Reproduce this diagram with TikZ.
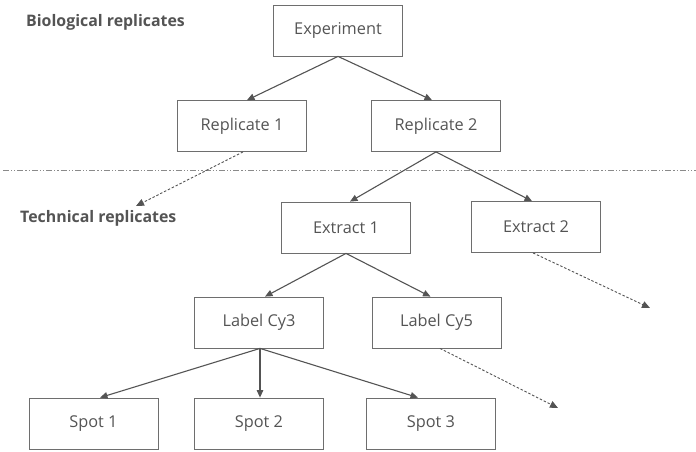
\documentclass[tikz,border=0pt]{standalone}
\usepackage{fontspec}
\setmainfont{Open Sans}
\usetikzlibrary{arrows.meta}
\definecolor{ink}{HTML}{545454}
\definecolor{rule}{HTML}{8A8A8A}
\begin{document}
\begin{tikzpicture}[x=1pt,y=-1pt,
  box/.style={draw=ink!85, line width=0.8pt, minimum width=129pt, minimum height=51pt,
              inner sep=0pt, text=ink, font=\fontsize{16.3}{18}\selectfont},
  side/.style={anchor=base west, inner sep=0pt, text=ink, font=\fontsize{15.9}{18}\selectfont\bfseries},
  link/.style={draw=ink, line width=1.1pt, -{Triangle[length=7.5pt,width=6.5pt]}},
  faint/.style={draw=ink, line width=0.9pt, dash pattern=on 2.5pt off 1.8pt, -{Triangle[length=8pt,width=7pt]}}]
\useasboundingbox (0,0) rectangle (696,451);

% level labels
\node[side] (bio) at (26,26) {Biological replicates};
\node[side] (tech) at (20,222) {Technical replicates};

% divider between biological and technical levels
\coordinate (divL) at (3,170);
\coordinate (divR) at (696,170);
\draw[rule, line width=0.9pt, dash pattern=on 6pt off 2pt on 1.2pt off 2pt on 1.2pt off 2pt] (divL) -- (divR);

% boxes
\node[box] (exp) at (338,30.5) {Experiment};
\node[box] (r1) at (242,126) {Replicate 1};
\node[box] (r2) at (436,126) {Replicate 2};
\node[box] (e1) at (346,227.5) {Extract 1};
\node[box] (e2) at (536,227) {Extract 2};
\node[box] (cy3) at (259,322.5) {Label Cy3};
\node[box] (cy5) at (436.5,322.5) {Label Cy5};
\node[box] (s1) at (93.5,423.5) {Spot 1};
\node[box] (s2) at (259,423.5) {Spot 2};
\node[box] (s3) at (431,423.5) {Spot 3};

% solid connectors
\draw[link] (exp.south) -- ([xshift=5pt]r1.north);
\draw[link] (exp.south) -- ([xshift=-4pt]r2.north);
\draw[link] (r2.south) -- ([xshift=4pt]e1.north);
\draw[link] (r2.south) -- ([xshift=-4pt]e2.north);
\draw[link] (e1.south) -- ([xshift=6pt]cy3.north);
\draw[link] (e1.south) -- ([xshift=-6pt]cy5.north);
\draw[link] ([xshift=1pt]cy3.south) -- ([xshift=6.5pt]s1.north);
\draw[link] ([xshift=1pt]cy3.south) -- ([xshift=1pt]s2.north);
\draw[link] ([xshift=1pt]cy3.south) -- ([xshift=-13pt]s3.north);

% dashed connectors to branches not shown
\coordinate (r1more) at (136,206);
\coordinate (e2more) at (650,308);
\coordinate (cy5more) at (558,408);
\draw[faint] ([xshift=1pt]r1.south) -- (r1more);
\draw[faint] ([xshift=-3pt]e2.south) -- (e2more);
\draw[faint] ([xshift=3.5pt]cy5.south) -- (cy5more);
\end{tikzpicture}
\end{document}
